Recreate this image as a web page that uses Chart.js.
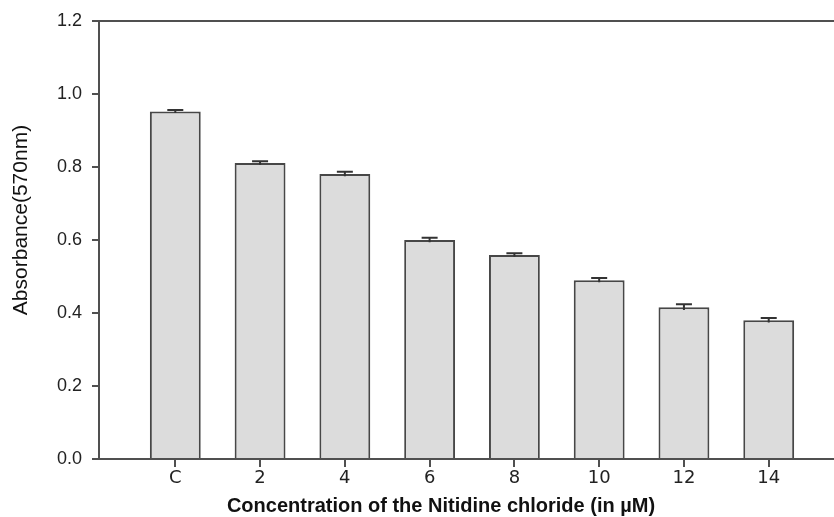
<!DOCTYPE html>
<html>
<head>
<meta charset="utf-8">
<script src="https://cdn.jsdelivr.net/npm/chart.js@4"></script>
<style>
  html, body { margin: 0; padding: 0; background: #fff; }
  #wrap { width: 834px; height: 517px; position: relative; }
</style>
</head>
<body>
<div id="wrap"><canvas id="c"></canvas></div>
<script>
const categories = ['C', '2', '4', '6', '8', '10', '12', '14'];
const concentrations = [0, 2, 4, 6, 8, 10, 12, 14];
const absorbance = [0.952, 0.811, 0.781, 0.600, 0.559, 0.490, 0.416, 0.380];
const errors = [0.004, 0.005, 0.006, 0.006, 0.005, 0.006, 0.008, 0.006];
const yTicks = [0, 0.2, 0.4, 0.6, 0.8, 1.0, 1.2];
const xTitle = 'Concentration of the Nitidine chloride (in µM)';
const yTitle = 'Absorbance(570nm)';

const axisColor = '#505050';

const errorBarPlugin = {
  id: 'errorBars',
  afterDatasetsDraw(chart) {
    const xs = chart.scales.x, ys = chart.scales.y;
    const ctx = chart.ctx;
    ctx.save();
    ctx.strokeStyle = '#333';
    ctx.lineWidth = 2;
    concentrations.forEach((c, i) => {
      const x = xs.getPixelForValue(c);
      const yT = ys.getPixelForValue(absorbance[i] + errors[i]);
      const yB = ys.getPixelForValue(absorbance[i] - errors[i]);
      ctx.beginPath();
      ctx.moveTo(x, yB); ctx.lineTo(x, yT);
      ctx.moveTo(x - 8, yT); ctx.lineTo(x + 8, yT);
      ctx.stroke();
    });
    ctx.restore();
  }
};

const framePlugin = {
  id: 'frame',
  afterDraw(chart) {
    const ctx = chart.ctx, xs = chart.scales.x, ys = chart.scales.y;
    const left = xs.left, top = ys.top, bottom = ys.bottom;
    ctx.save();
    ctx.fillStyle = axisColor;
    // top frame line
    ctx.fillRect(left - 1, top - 1, chart.width - left + 1, 2);
    // x tick marks
    concentrations.forEach(c => {
      const x = Math.round(xs.getPixelForValue(c));
      ctx.fillRect(x - 1, bottom, 2, 8);
    });
    // axis titles
    ctx.fillStyle = '#111';
    ctx.textAlign = 'center';
    ctx.textBaseline = 'alphabetic';
    ctx.font = 'bold 20px "Liberation Sans", Arial, sans-serif';
    ctx.fillText(xTitle, 441, 512);
    ctx.translate(27, 220);
    ctx.rotate(-Math.PI / 2);
    ctx.font = '21px "Liberation Sans", Arial, sans-serif';
    ctx.fillText(yTitle, 0, 0);
    ctx.restore();
  }
};

new Chart(document.getElementById('c'), {
  type: 'bar',
  data: {
    datasets: [{
      data: concentrations.map((c, i) => ({ x: c, y: absorbance[i] })),
      backgroundColor: '#dcdcdc',
      borderColor: '#474747',
      borderWidth: 2,
      barPercentage: 0.6,
      categoryPercentage: 1.0
    }]
  },
  options: {
    responsive: true,
    maintainAspectRatio: false,
    animation: false,
    layout: { padding: { top: 21, left: 0, right: 0, bottom: 0 } },
    plugins: { legend: { display: false }, tooltip: { enabled: false } },
    scales: {
      x: {
        type: 'linear',
        offset: false,
        min: -1.8,
        max: 15.54,
        afterBuildTicks: (scale) => { scale.ticks = concentrations.map(v => ({ value: v })); },
        afterFit: (scale) => { scale.height = 58; },
        ticks: {
          callback: (v) => categories[concentrations.indexOf(v)],
          color: '#222',
          font: { family: '"DejaVu Sans", sans-serif', size: 18 },
          padding: 9,
          maxRotation: 0,
          autoSkip: false
        },
        grid: { display: false, drawTicks: false },
        border: { display: true, color: axisColor, width: 2 }
      },
      y: {
        min: 0,
        max: 1.2,
        afterBuildTicks: (scale) => { scale.ticks = yTicks.map(v => ({ value: v })); },
        afterFit: (scale) => { scale.width = 99; },
        ticks: {
          callback: (v) => v.toFixed(1),
          color: '#222',
          font: { family: '"Liberation Sans", Arial, sans-serif', size: 18 },
          padding: 10
        },
        grid: { display: true, drawOnChartArea: false, drawTicks: true, tickLength: 7, color: axisColor, lineWidth: 2 },
        border: { display: true, color: axisColor, width: 2 }
      }
    }
  },
  plugins: [errorBarPlugin, framePlugin]
});
</script>
</body>
</html>
